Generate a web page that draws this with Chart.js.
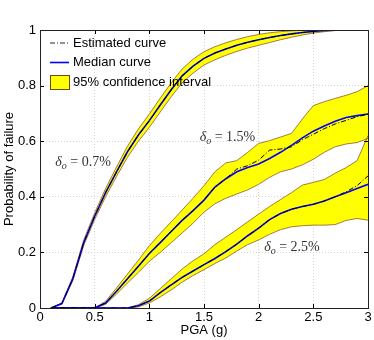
<!DOCTYPE html>
<html>
<head>
<meta charset="utf-8">
<script src="https://cdn.jsdelivr.net/npm/chart.js@4/dist/chart.umd.min.js"></script>
<style>
  body { margin: 0; background: #fff; }
  #wrap { width: 374px; height: 340px; }
</style>
</head>
<body>
<div id="wrap"><canvas id="fragility"></canvas></div>
<script>
// PGA values (g)
var pga = [0.1, 0.2, 0.3, 0.4, 0.5, 0.6, 0.7, 0.8, 0.9, 1.0,
           1.1, 1.2, 1.3, 1.4, 1.5, 1.6, 1.7, 1.8, 1.9, 2.0,
           2.1, 2.2, 2.3, 2.4, 2.5, 2.6, 2.7, 2.8, 2.9, 3.0];

// delta_o = 0.7%
var median07 = [0, 0.016, 0.105, 0.235, 0.33, 0.415, 0.49, 0.562, 0.622, 0.674,
                0.73, 0.785, 0.835, 0.87, 0.898, 0.917, 0.932, 0.945, 0.956, 0.965,
                0.973, 0.98, 0.986, 0.991, 0.995, 0.998, 0.999, 1, 1, 1];
var estim07 = [0, 0.016, 0.105, 0.235, 0.33, 0.415, 0.49, 0.562, 0.622, 0.674,
               0.73, 0.785, 0.835, 0.87, 0.898, 0.917, 0.932, 0.945, 0.956, 0.965,
               0.973, 0.98, 0.986, 0.991, 0.995, 0.998, 0.999, 1, 1, 1];
var upper07 = [0, 0.018, 0.112, 0.245, 0.342, 0.43, 0.507, 0.582, 0.644, 0.698,
               0.755, 0.81, 0.86, 0.895, 0.922, 0.94, 0.954, 0.966, 0.976, 0.984,
               0.99, 0.994, 0.997, 0.999, 1, 1, 1, 1, 1, 1];
var lower07 = [0, 0.014, 0.098, 0.225, 0.318, 0.4, 0.473, 0.542, 0.6, 0.65,
               0.705, 0.76, 0.81, 0.845, 0.874, 0.893, 0.909, 0.923, 0.935, 0.945,
               0.955, 0.965, 0.974, 0.982, 0.989, 0.994, 0.998, 1, 1, 1];

// delta_o = 1.5%
var median15 = [0, 0, 0, 0, 0, 0.018, 0.06, 0.105, 0.15, 0.196,
                0.235, 0.275, 0.315, 0.35, 0.388, 0.435, 0.465, 0.49, 0.505, 0.518,
                0.538, 0.56, 0.585, 0.612, 0.636, 0.655, 0.672, 0.685, 0.692, 0.698];
var estim15 = [0, 0, 0, 0, 0, 0.018, 0.06, 0.105, 0.15, 0.196,
               0.235, 0.275, 0.315, 0.35, 0.388, 0.435, 0.465, 0.5, 0.512, 0.532,
               0.568, 0.572, 0.58, 0.605, 0.625, 0.645, 0.662, 0.675, 0.688, 0.697];
var upper15 = [0, 0, 0, 0, 0, 0.024, 0.072, 0.122, 0.172, 0.224,
               0.268, 0.31, 0.352, 0.395, 0.44, 0.49, 0.522, 0.53, 0.56, 0.592,
               0.602, 0.615, 0.628, 0.68, 0.728, 0.742, 0.754, 0.765, 0.778, 0.8];
var lower15 = [0, 0, 0, 0, 0, 0.013, 0.05, 0.09, 0.128, 0.168,
               0.2, 0.235, 0.27, 0.305, 0.345, 0.375, 0.395, 0.41, 0.425, 0.445,
               0.47, 0.49, 0.5, 0.515, 0.535, 0.56, 0.58, 0.59, 0.595, 0.61];

// delta_o = 2.5%
var median25 = [0, 0, 0, 0, 0, 0, 0, 0, 0.008, 0.025,
                0.055, 0.083, 0.11, 0.133, 0.156, 0.178, 0.203, 0.23, 0.26, 0.287,
                0.318, 0.34, 0.355, 0.365, 0.373, 0.385, 0.4, 0.415, 0.43, 0.445];
var estim25 = [0, 0, 0, 0, 0, 0, 0, 0, 0.008, 0.025,
               0.055, 0.083, 0.11, 0.133, 0.156, 0.178, 0.203, 0.23, 0.26, 0.287,
               0.318, 0.34, 0.355, 0.365, 0.373, 0.385, 0.4, 0.418, 0.44, 0.475];
var upper25 = [0, 0, 0, 0, 0, 0, 0, 0, 0.012, 0.035,
               0.07, 0.105, 0.14, 0.17, 0.195, 0.228, 0.255, 0.282, 0.31, 0.338,
               0.365, 0.39, 0.415, 0.442, 0.452, 0.462, 0.485, 0.505, 0.53, 0.62];
var lower25 = [0, 0, 0, 0, 0, 0, 0, 0, 0.004, 0.018,
               0.04, 0.065, 0.093, 0.117, 0.138, 0.16, 0.18, 0.205, 0.228, 0.245,
               0.265, 0.282, 0.292, 0.296, 0.298, 0.298, 0.3, 0.315, 0.322, 0.316];

// curve labels and where they sit (data coords, left/baseline)
var curveLabels = ["0.7%", "1.5%", "2.5%"];
var labelAt = [[0.14, 0.51], [1.46, 0.60], [2.05, 0.205]];

var legendItems = ["Estimated curve", "Median curve", "95% confidence interval"];

var FONT = "'Liberation Sans', Arial, Helvetica, sans-serif";

function pts(arr) {
    return arr.map(function (v, i) { return { x: pga[i], y: v }; });
}

function band(up, low) {
    return [
        { data: pts(up), borderColor: '#8b5a2b', borderWidth: 0.8, backgroundColor: '#ffff00',
          fill: '+1', pointRadius: 0, order: 3 },
        { data: pts(low), borderColor: '#8b5a2b', borderWidth: 0.8, backgroundColor: '#ffff00',
          fill: false, pointRadius: 0, order: 3 }
    ];
}

function medianLine(arr) {
    return { data: pts(arr), borderColor: '#0000ff', borderWidth: 1.6, fill: false, pointRadius: 0, order: 1 };
}

function estLine(arr) {
    return { data: pts(arr), borderColor: '#000000', borderWidth: 1, borderDash: [5, 2, 1, 2],
             fill: false, pointRadius: 0, order: 0 };
}

function tickText(v) {
    return String(parseFloat(v.toFixed(2)));
}

var datasets = []
    .concat(band(upper07, lower07))
    .concat(band(upper15, lower15))
    .concat(band(upper25, lower25))
    .concat([medianLine(median07), medianLine(median15), medianLine(median25)])
    .concat([estLine(estim07), estLine(estim15), estLine(estim25)]);

// frame, inward ticks, legend box and the delta labels
var decorations = {
    id: 'decorations',
    afterDraw: function (chart) {
        var ctx = chart.ctx;
        var a = chart.chartArea;
        var xs = chart.scales.x, ys = chart.scales.y;
        ctx.save();

        // ticks (inward, mirrored)
        ctx.strokeStyle = '#000';
        ctx.lineWidth = 1;
        ctx.beginPath();
        xs.ticks.forEach(function (t) {
            var px = Math.round(xs.getPixelForValue(t.value)) + 0.5;
            ctx.moveTo(px, a.bottom); ctx.lineTo(px, a.bottom - 4);
            ctx.moveTo(px, a.top); ctx.lineTo(px, a.top + 4);
        });
        ys.ticks.forEach(function (t) {
            var py = Math.round(ys.getPixelForValue(t.value)) + 0.5;
            ctx.moveTo(a.left, py); ctx.lineTo(a.left + 4, py);
            ctx.moveTo(a.right, py); ctx.lineTo(a.right - 4, py);
        });
        ctx.stroke();

        // box
        ctx.strokeStyle = '#222';
        ctx.strokeRect(Math.round(a.left) + 0.5, Math.round(a.top) + 0.5,
                       Math.round(a.right - a.left), Math.round(a.bottom - a.top));

        // legend
        var lx = a.left + 10, ly = a.top + 13, row = 19.5;
        ctx.font = '13px ' + FONT;
        ctx.textBaseline = 'middle';
        ctx.fillStyle = '#000';
        ctx.lineWidth = 1;
        ctx.setLineDash([5, 2, 1, 2]);
        ctx.beginPath();
        ctx.moveTo(lx, ly); ctx.lineTo(lx + 19, ly);
        ctx.stroke();
        ctx.setLineDash([]);
        ctx.strokeStyle = '#0000ff';
        ctx.lineWidth = 1.6;
        ctx.beginPath();
        ctx.moveTo(lx, ly + row); ctx.lineTo(lx + 19, ly + row);
        ctx.stroke();
        ctx.fillStyle = '#ffff00';
        ctx.fillRect(lx, ly + 2 * row - 7, 19, 14);
        ctx.strokeStyle = '#6b4a1b';
        ctx.lineWidth = 1;
        ctx.strokeRect(lx + 0.5, ly + 2 * row - 6.5, 19, 14);
        ctx.fillStyle = '#000';
        legendItems.forEach(function (txt, i) {
            ctx.fillText(txt, lx + 23, ly + i * row);
        });

        // delta labels
        curveLabels.forEach(function (txt, i) {
            var x = xs.getPixelForValue(labelAt[i][0]);
            var y = ys.getPixelForValue(labelAt[i][1]);
            ctx.fillStyle = '#333';
            ctx.textBaseline = 'alphabetic';
            ctx.font = 'italic 14px "Liberation Serif", "DejaVu Serif", serif';
            ctx.fillText('\u03b4', x, y);
            var w = ctx.measureText('\u03b4').width;
            ctx.font = 'italic 10px "Liberation Serif", "DejaVu Serif", serif';
            ctx.fillText('o', x + w, y + 3);
            var w2 = ctx.measureText('o').width;
            ctx.font = '14px "Liberation Serif", "DejaVu Serif", serif';
            ctx.fillText(' = ' + txt, x + w + w2, y);
        });
        ctx.restore();
    }
};

var ctx = document.getElementById("fragility").getContext("2d");
var chart = new Chart(ctx, {
    type: "line",
    data: { datasets: datasets },
    options: {
        responsive: true,
        maintainAspectRatio: false,
        animation: false,
        layout: { padding: { top: 30, right: 6, left: 0, bottom: 0 } },
        plugins: {
            legend: { display: false },
            tooltip: { enabled: false },
            filler: { drawTime: 'beforeDatasetsDraw' }
        },
        elements: { line: { tension: 0 } },
        scales: {
            x: {
                type: 'linear',
                min: 0,
                max: 3,
                afterFit: function (s) { s.height = 32; },
                ticks: { stepSize: 0.5, padding: 2, color: '#000', font: { family: FONT, size: 13 }, maxRotation: 0,
                         callback: function (v) { return tickText(v); } },
                grid: { color: '#d4d4d4', drawTicks: false, lineWidth: 1 },
                border: { display: false, dash: [1, 2] },
                title: { display: true, text: 'PGA (g)', color: '#000', padding: { top: 0, bottom: 2 },
                         font: { family: FONT, size: 13 } }
            },
            y: {
                min: 0,
                max: 1,
                afterFit: function (s) { s.width = 40; },
                ticks: { stepSize: 0.2, padding: 4, color: '#000', font: { family: FONT, size: 13 },
                         callback: function (v) { return tickText(v); } },
                grid: { color: '#d4d4d4', drawTicks: false, lineWidth: 1 },
                border: { display: false, dash: [1, 2] },
                title: { display: true, text: 'Probability of failure', color: '#000', padding: { top: 2, bottom: 0 },
                         font: { family: FONT, size: 13 } }
            }
        }
    },
    plugins: [decorations]
});
</script>
</body>
</html>
